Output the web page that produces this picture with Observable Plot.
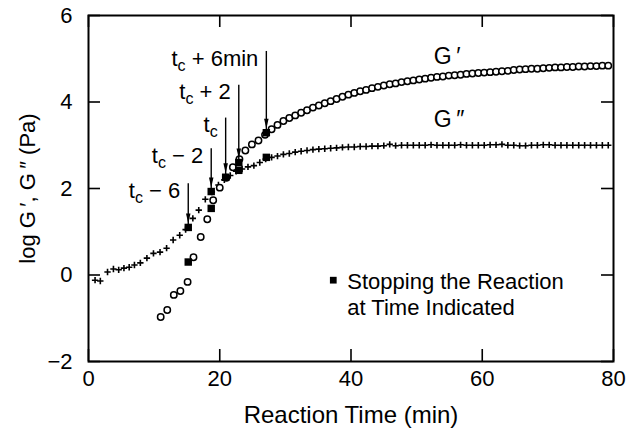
<!DOCTYPE html>
<html><head><meta charset="utf-8">
<script src="https://cdn.jsdelivr.net/npm/d3@7"></script>
<script src="https://cdn.jsdelivr.net/npm/@observablehq/plot@0.6"></script>
<style>
body{margin:0;background:#fff}
svg{font-family:"Liberation Sans",Arial,Helvetica,sans-serif}
</style>
</head><body><div id="chart"></div>
<script>
// G' (storage modulus, open circles)
const gpTime = [11.0, 12.0, 13.0, 14.0, 15.1, 16.0, 17.1, 18.1, 19.0, 20.0, 21.0, 22.0, 23.0, 23.9, 24.9, 25.9, 26.9,
  27.9, 28.8, 29.7, 30.6, 31.5, 32.4, 33.3, 34.2, 35.1, 36.0, 36.9, 37.8, 38.7, 39.6, 40.5, 41.4, 42.3, 43.2, 44.1, 45.0,
  45.9, 46.8, 47.7, 48.6, 49.5, 50.4, 51.3, 52.2, 53.1, 54.0, 54.9, 55.8, 56.7, 57.6, 58.5, 59.4, 60.3, 61.2, 62.1, 63.0,
  63.9, 64.8, 65.7, 66.6, 67.5, 68.4, 69.3, 70.2, 71.1, 72.0, 72.9, 73.8, 74.7, 75.6, 76.5, 77.4, 78.3, 79.2];
const gpValue = [-0.97, -0.81, -0.46, -0.37, -0.16, 0.41, 0.88, 1.29, 1.73, 2.02, 2.25, 2.49, 2.68, 2.88, 3.02, 3.11, 3.24,
  3.37, 3.47, 3.56, 3.63, 3.69, 3.75, 3.81, 3.87, 3.92, 3.97, 4.02, 4.07, 4.12, 4.17, 4.21, 4.25, 4.28, 4.32, 4.35, 4.38,
  4.41, 4.43, 4.46, 4.48, 4.50, 4.52, 4.54, 4.56, 4.58, 4.59, 4.61, 4.62, 4.63, 4.65, 4.66, 4.67, 4.68, 4.69, 4.70, 4.71,
  4.72, 4.74, 4.75, 4.76, 4.77, 4.77, 4.78, 4.79, 4.80, 4.80, 4.81, 4.81, 4.82, 4.82, 4.83, 4.83, 4.84, 4.84];

// G'' (loss modulus, crosses)
const gppTime = [1.0, 1.8, 2.9, 3.8, 4.6, 5.4, 6.2, 7.0, 7.9, 8.9, 9.9, 10.9, 11.9, 12.9, 13.9, 14.8, 15.9, 16.8, 17.8, 18.8,
  19.8, 20.7, 21.6, 22.5, 23.4, 24.3, 25.2, 26.1, 27.0,
  27.9, 28.8, 29.7, 30.6, 31.5, 32.4, 33.3, 34.2, 35.1, 36.0, 36.9, 37.8, 38.7, 39.6, 40.5, 41.4, 42.3, 43.2, 44.1, 45.0,
  45.9, 46.8, 47.7, 48.6, 49.5, 50.4, 51.3, 52.2, 53.1, 54.0, 54.9, 55.8, 56.7, 57.6, 58.5, 59.4, 60.3, 61.2, 62.1, 63.0,
  63.9, 64.8, 65.7, 66.6, 67.5, 68.4, 69.3, 70.2, 71.1, 72.0, 72.9, 73.8, 74.7, 75.6, 76.5, 77.4, 78.3, 79.2];
const gppValue = [-0.12, -0.14, 0.07, 0.14, 0.12, 0.16, 0.18, 0.23, 0.28, 0.39, 0.50, 0.53, 0.62, 0.81, 0.92, 1.05, 1.31, 1.50, 1.75, 1.92,
  2.08, 2.20, 2.30, 2.40, 2.45, 2.50, 2.53, 2.60, 2.68,
  2.72, 2.75, 2.79, 2.81, 2.84, 2.86, 2.88, 2.90, 2.91, 2.92, 2.93, 2.94, 2.95, 2.96, 2.96, 2.97, 2.97, 2.98, 2.98, 2.99,
  3.02, 2.99, 3.00, 3.00, 3.00, 3.00, 3.00, 3.01, 3.00, 3.00, 3.00, 3.00, 3.01, 3.00, 3.00, 3.00, 3.00, 3.01, 3.01, 3.02,
  3.00, 3.00, 2.99, 2.99, 3.00, 3.00, 3.01, 3.01, 3.00, 3.00, 3.00, 3.00, 3.00, 3.00, 3.00, 3.00, 3.00, 3.00];

// Reaction stopped (filled squares)
const stopTime = [15.2, 15.2, 18.7, 18.7, 20.9, 22.9, 22.9, 27.1, 27.1];
const stopValue = [1.10, 0.30, 1.93, 1.54, 2.26, 2.60, 2.42, 3.29, 2.72];

// Arrow annotations
const arrowTime = [15.2, 18.7, 20.9, 22.9, 27.1];
const arrowFrom = [2.12, 2.93, 3.64, 4.40, 5.18];
const arrowTo = [1.10, 1.93, 2.26, 2.60, 3.29];
const arrowLabel = ["\u00a0\u2212\u00a06", "\u00a0\u2212\u00a02", "", "\u00a0+\u00a02", "\u00a0+\u00a06min"];

// Series labels
const seriesName = ["G\u2009\u2032", "G\u2009\u2033"];
const seriesLabelTime = [52.6, 52.6];
const seriesLabelValue = [5.05, 3.59];

// Legend
const legendText = ["Stopping the Reaction\nat Time Indicated"];
const legendTime = [37.3];
const legendValue = [-0.12];

const xTicks = [0, 20, 40, 60, 80];
const yTicks = [-2, 0, 2, 4, 6];
const xTitle = "Reaction Time (min)";
const yTitle = "log G\u2009\u2032, G\u2009\u2033 (Pa)";

const gp = gpTime.map((t, i) => ({t, v: gpValue[i]}));
const gpp = gppTime.map((t, i) => ({t, v: gppValue[i]}));
const stops = stopTime.map((t, i) => ({t, v: stopValue[i]}));
const arrows = arrowTime.map((t, i) => ({t, from: arrowFrom[i], to: arrowTo[i], label: arrowLabel[i]}));
const seriesLabels = seriesName.map((s, i) => ({s, t: seriesLabelTime[i], v: seriesLabelValue[i]}));
const legend = legendText.map((s, i) => ({s, t: legendTime[i], v: legendValue[i]}));

const W = 628, H = 441, mL = 88, mR = 15, mT = 15, mB = 80;
const fw = W - mL - mR, fh = H - mT - mB;
const fmt = d => d < 0 ? "\u2212" + Math.abs(d) : String(d);
const FONT = 22;

// narrow filled arrowhead pointing down
const arrowHead = {
  draw(ctx, size) {
    const r = Math.sqrt(size / Math.PI);
    ctx.moveTo(0, r);
    ctx.lineTo(-r * 0.45, -r);
    ctx.lineTo(r * 0.45, -r);
    ctx.closePath();
  }
};

const plot = Plot.plot({
  width: W, height: H,
  marginLeft: mL, marginRight: mR, marginTop: mT, marginBottom: mB,
  style: {fontFamily: '"Liberation Sans", Arial, Helvetica, sans-serif', fontSize: FONT + "px", color: "black", background: "white"},
  x: {domain: [0, 80]},
  y: {domain: [-2, 6]},
  marks: [
    Plot.axisX(xTicks, {tickSize: 0, tickPadding: 9, fontSize: FONT, label: null, tickFormat: fmt}),
    Plot.axisY(yTicks, {tickSize: 0, tickPadding: 16, fontSize: FONT, label: null, tickFormat: fmt}),
    Plot.tickX(xTicks, {x: d => d, insetTop: fh - 12, stroke: "black", strokeWidth: 1.6}),
    Plot.tickX(xTicks, {x: d => d, insetBottom: fh - 12, stroke: "black", strokeWidth: 1.6}),
    Plot.tickY(yTicks, {y: d => d, insetRight: fw - 12, stroke: "black", strokeWidth: 1.6}),
    Plot.tickY(yTicks, {y: d => d, insetLeft: fw - 12, stroke: "black", strokeWidth: 1.6}),
    Plot.frame({stroke: "black", strokeWidth: 2}),
    Plot.dot(gpp, {x: "t", y: "v", symbol: "plus", r: 2.2, stroke: "black", strokeWidth: 1.6}),
    Plot.dot(gp, {x: "t", y: "v", r: 3.2, stroke: "black", fill: "white", strokeWidth: 1.5}),
    Plot.dot(stops, {x: "t", y: "v", symbol: "square", r: 4.2, fill: "black", stroke: "none"}),
    Plot.link(arrows, {x1: "t", x2: "t", y1: "from", y2: "to", insetEnd: 10, stroke: "black", strokeWidth: 1.4}),
    Plot.dot(arrows, {x: "t", y: "to", symbol: arrowHead, r: 5, dy: -9, fill: "black", stroke: "none"}),
    Plot.text(arrows, {x: "t", y: "from", text: d => "tc|" + d.label, textAnchor: "end", lineAnchor: "top", dx: -8, dy: -1, fontSize: 22, fill: "black"}),
    Plot.text(seriesLabels, {x: "t", y: "v", text: "s", textAnchor: "start", fontSize: 23, fill: "black"}),
    Plot.dot(legend, {x: "t", y: "v", symbol: "square", r: 3.8, fill: "black", stroke: "none"}),
    Plot.text(legend, {x: "t", y: "v", text: "s", textAnchor: "start", lineAnchor: "top", lineHeight: 1.16, dx: 14, dy: -9, fontSize: 22, fill: "black"}),
    Plot.text([xTitle], {frameAnchor: "bottom", text: d => d, textAnchor: "middle", lineAnchor: "middle", dy: 54, fontSize: 24, fill: "black"}),
    Plot.text([yTitle], {frameAnchor: "left", text: d => d, textAnchor: "middle", lineAnchor: "middle", rotate: -90, dx: -61, fontSize: 22, fill: "black"})
  ]
});

// subscript "c" in t_c labels
d3.select(plot).selectAll("text").each(function() {
  const s = this.textContent;
  if (s.startsWith("tc|")) {
    const rest = s.slice(3);
    this.textContent = "";
    const sel = d3.select(this);
    sel.append("tspan").text("t");
    sel.append("tspan").attr("font-size", "16px").attr("dy", "5").text("c");
    if (rest) sel.append("tspan").attr("dy", "-5").text(rest);
  }
});

document.getElementById("chart").appendChild(plot);
</script>
</body></html>
